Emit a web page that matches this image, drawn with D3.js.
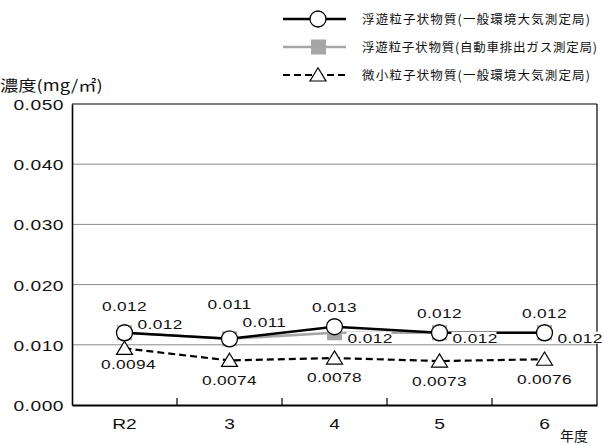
<!DOCTYPE html>
<html><head><meta charset="utf-8">
<script src="https://cdn.jsdelivr.net/npm/d3@7"></script>
<style>body{margin:0;background:#fff}</style>
</head><body>
<svg id="c" width="604" height="445"></svg>
<script>
const categories = ["R2", "3", "4", "5", "6"];
const spmGeneral = [0.012, 0.011, 0.013, 0.012, 0.012];
const spmRoadside = [0.012, 0.011, 0.012, 0.012, 0.012];
const pm25General = [0.0094, 0.0074, 0.0078, 0.0073, 0.0076];
const yTicks = [0, 0.01, 0.02, 0.03, 0.04, 0.05];
const legendNames = ["浮遊粒子状物質(一般環境大気測定局)", "浮遊粒子状物質(自動車排出ガス測定局)", "微小粒子状物質(一般環境大気測定局)"];

// label placement (style)
const blackDy = [-27, -35, -20, -20, -20];
const grayDy = [-9, -17, 5, 5, 5];
const pmDy = [16, 19.5, 19, 20, 20];
const pmDx = [4, 0, 0, 0, 0];
const legendWidths = [228, 235, 228];

const svg = d3.select("#c");
const numFont = "'Liberation Sans', Arial, sans-serif";
const jpFont = "'Noto Sans CJK JP', sans-serif";
const SX = 1.28; // horizontal stretch for wide digits
const L = 72, R = 597, T = 104, B = 405;
const x = d3.scaleBand().domain(categories).range([L, R]);
const y = d3.scaleLinear().domain([0, 0.05]).range([B, T]);
const cx = c => x(c) + x.bandwidth() / 2;

// gridlines
svg.append("g").selectAll("line").data(yTicks.filter(v => v > 0 && v < 0.05)).join("line")
  .attr("x1", L).attr("x2", R).attr("y1", d => y(d)).attr("y2", d => y(d))
  .attr("stroke", "#8a8a8a").attr("stroke-width", 1);
svg.append("line").attr("x1", L).attr("x2", R).attr("y1", y(0.05)).attr("y2", y(0.05)).attr("stroke", "#000").attr("stroke-width", 1.2);
svg.append("line").attr("x1", R).attr("x2", R).attr("y1", T).attr("y2", B).attr("stroke", "#000").attr("stroke-width", 1.2);

// y axis
const yAxis = d3.axisLeft(y).tickValues(yTicks).tickSize(0).tickPadding(0).tickFormat(d3.format(".3f"));
const gy = svg.append("g").attr("transform", `translate(${L},0)`).call(yAxis);
gy.select(".domain").attr("stroke", "#000").attr("stroke-width", 1.6);
gy.selectAll("text").attr("font-family", numFont).attr("font-size", 15).attr("letter-spacing", 0.4).attr("fill", "#111")
  .attr("x", -8 / SX).attr("dy", "0.36em").attr("transform", `scale(${SX},1)`);

// x axis
const xAxis = d3.axisBottom(x).tickSize(0).tickPadding(13);
const gx = svg.append("g").attr("transform", `translate(0,${B})`).call(xAxis);
gx.select(".domain").attr("stroke", "#000").attr("stroke-width", 2);
gx.selectAll(".tick text").attr("font-family", numFont).attr("font-size", 15).attr("fill", "#111").attr("transform", `scale(${SX},1)`);
svg.append("g").selectAll("line").data(categories.slice(1)).join("line")
  .attr("x1", d => x(d)).attr("x2", d => x(d)).attr("y1", B).attr("y2", B - 7)
  .attr("stroke", "#000").attr("stroke-width", 1.2);

// axis titles
svg.append("text").attr("x", 0).attr("y", 91).attr("font-family", jpFont).attr("font-size", 15).attr("fill", "#111")
  .attr("transform", "scale(1.22,1)").text("濃度(mg/㎡)");
svg.append("text").attr("x", 560).attr("y", 441).attr("font-family", jpFont).attr("font-size", 14).attr("fill", "#111").text("年度");

// series
const line = d3.line().x((d, i) => cx(categories[i])).y(d => y(d));
svg.append("path").attr("d", line(spmRoadside)).attr("fill", "none").attr("stroke", "#a6a6a6").attr("stroke-width", 2.5);
svg.append("g").selectAll("rect").data(spmRoadside).join("rect")
  .attr("x", (d, i) => cx(categories[i]) - 7.5).attr("y", d => y(d) - 7.5).attr("width", 15).attr("height", 15).attr("fill", "#a6a6a6");
svg.append("path").attr("d", line(spmGeneral)).attr("fill", "none").attr("stroke", "#000").attr("stroke-width", 2.5);
svg.append("path").attr("d", line(pm25General)).attr("fill", "none").attr("stroke", "#000").attr("stroke-width", 2.2).attr("stroke-dasharray", "7,4");

const tri = (px, py, s) => `M${px},${py - s * 0.9}L${px + s},${py + s * 0.75}L${px - s},${py + s * 0.75}Z`;
svg.append("g").selectAll("path").data(pm25General).join("path")
  .attr("d", (d, i) => tri(cx(categories[i]), y(d), 8)).attr("fill", "#fff").attr("stroke", "#000").attr("stroke-width", 1.2);
svg.append("g").selectAll("circle").data(spmGeneral).join("circle")
  .attr("cx", (d, i) => cx(categories[i])).attr("cy", d => y(d)).attr("r", 8)
  .attr("fill", "#fff").attr("stroke", "#000").attr("stroke-width", 1.3);

// labels
const fmt = d3.format(".3f");
const lblSize = 13.5, lblSpace = 0.3;
function numLabel(sel, anchor) {
  sel.append("text").attr("transform", `scale(${SX},1)`).attr("dy", "0.36em").attr("text-anchor", anchor)
    .attr("font-family", numFont).attr("font-size", lblSize).attr("letter-spacing", lblSpace).attr("fill", "#111");
}
const bl = svg.append("g").selectAll("g").data(spmGeneral).join("g")
  .attr("transform", (d, i) => `translate(${cx(categories[i])},${y(d) + blackDy[i]})`);
numLabel(bl, "middle"); bl.select("text").text(d => fmt(d));

const gl = svg.append("g").selectAll("g").data(spmRoadside).join("g")
  .attr("transform", (d, i) => `translate(${cx(categories[i]) + 13},${y(d) + grayDy[i]})`);
gl.append("rect").attr("x", -1).attr("y", -6).attr("width", 45).attr("height", 12).attr("fill", "#fff");
numLabel(gl, "start"); gl.select("text").text(d => fmt(d));

const pl = svg.append("g").selectAll("g").data(pm25General).join("g")
  .attr("transform", (d, i) => `translate(${cx(categories[i]) + pmDx[i]},${y(d) + pmDy[i]})`);
numLabel(pl, "middle"); pl.select("text").text(d => d3.format(".4f")(d));

// legend
const leg = svg.append("g");
const ly = [19, 47, 75];
leg.append("line").attr("x1", 283).attr("x2", 346).attr("y1", ly[0]).attr("y2", ly[0]).attr("stroke", "#000").attr("stroke-width", 2.5);
leg.append("circle").attr("cx", 318).attr("cy", ly[0]).attr("r", 8).attr("fill", "#fff").attr("stroke", "#000").attr("stroke-width", 1.3);
leg.append("line").attr("x1", 283).attr("x2", 346).attr("y1", ly[1]).attr("y2", ly[1]).attr("stroke", "#a6a6a6").attr("stroke-width", 2.5);
leg.append("rect").attr("x", 311).attr("y", ly[1] - 7.5).attr("width", 15).attr("height", 15).attr("fill", "#a6a6a6");
leg.append("line").attr("x1", 283).attr("x2", 346).attr("y1", ly[2]).attr("y2", ly[2]).attr("stroke", "#000").attr("stroke-width", 2.2).attr("stroke-dasharray", "7,4");
leg.append("path").attr("d", tri(318, ly[2], 8)).attr("fill", "#fff").attr("stroke", "#000").attr("stroke-width", 1.2);
leg.selectAll("text").data(legendNames).join("text")
  .attr("x", 362).attr("y", (d, i) => ly[i]).attr("dy", "0.36em")
  .attr("font-family", jpFont).attr("font-size", 12.5).attr("fill", "#111")
  .attr("textLength", (d, i) => legendWidths[i]).attr("lengthAdjust", "spacing").text(d => d);
</script>
</body></html>
